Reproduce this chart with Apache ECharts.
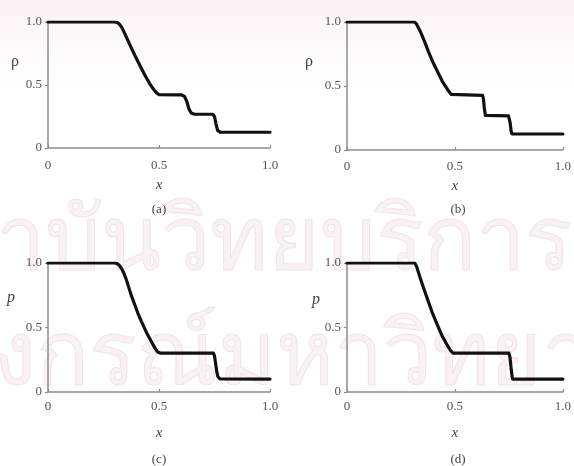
<!DOCTYPE html>
<html>
<head>
<meta charset="utf-8">
<script src="https://cdn.jsdelivr.net/npm/echarts@6/dist/echarts.min.js"></script>
<style>
  html, body { margin: 0; padding: 0; background: #ffffff; }
  #chart { width: 574px; height: 466px; }
</style>
</head>
<body>
<div id="chart"></div>
<script>
// Sod shock tube profiles: density (a, b) and pressure (c, d) against x
const xTicks = [0, 0.5, 1.0];
const yTicks = [0, 0.5, 1.0];

const rhoA = [
  [0, 1], [0.30, 1], [0.312, 0.996], [0.322, 0.982], [0.333, 0.955], [0.346, 0.908],
  [0.37, 0.815], [0.391, 0.736], [0.414, 0.655], [0.436, 0.579], [0.46, 0.505],
  [0.478, 0.46], [0.489, 0.437], [0.50, 0.424], [0.60, 0.422], [0.615, 0.41],
  [0.625, 0.37], [0.635, 0.31], [0.645, 0.278], [0.66, 0.268], [0.742, 0.268],
  [0.75, 0.25], [0.757, 0.19], [0.764, 0.14], [0.775, 0.126], [1.0, 0.125]
];
const rhoB = [
  [0, 1], [0.312, 1], [0.322, 0.985], [0.34, 0.925], [0.36, 0.845], [0.378, 0.765],
  [0.397, 0.69], [0.42, 0.61], [0.442, 0.535], [0.465, 0.475], [0.482, 0.435],
  [0.49, 0.427], [0.628, 0.427], [0.632, 0.40], [0.636, 0.33], [0.641, 0.27],
  [0.646, 0.266], [0.748, 0.266], [0.752, 0.24], [0.756, 0.21], [0.76, 0.15],
  [0.764, 0.126], [1.0, 0.125]
];
const pC = [
  [0, 1], [0.30, 1], [0.312, 0.995], [0.322, 0.98], [0.332, 0.955], [0.342, 0.92],
  [0.352, 0.875], [0.363, 0.815], [0.376, 0.745], [0.39, 0.68], [0.405, 0.61],
  [0.421, 0.546], [0.444, 0.46], [0.466, 0.39], [0.482, 0.34], [0.494, 0.31],
  [0.505, 0.302], [0.745, 0.302], [0.75, 0.28], [0.755, 0.22], [0.76, 0.16],
  [0.765, 0.12], [0.775, 0.101], [1.0, 0.1]
];
const pD = [
  [0, 1], [0.314, 1], [0.322, 0.975], [0.338, 0.89], [0.356, 0.80], [0.375, 0.71],
  [0.394, 0.62], [0.416, 0.53], [0.439, 0.44], [0.462, 0.37], [0.48, 0.32],
  [0.491, 0.302], [0.75, 0.302], [0.755, 0.27], [0.758, 0.22], [0.761, 0.17],
  [0.765, 0.12], [0.768, 0.1], [1.0, 0.1]
];

const panels = [
  { data: rhoA, yName: 'ρ', yItalic: false, caption: '(a)' },
  { data: rhoB, yName: 'ρ', yItalic: false, caption: '(b)' },
  { data: pC,   yName: 'p', yItalic: true,  caption: '(c)' },
  { data: pD,   yName: 'p', yItalic: true,  caption: '(d)' }
];

const SERIF = '"Liberation Serif", "DejaVu Serif", serif';
const AXIS_GREY = '#8c8c8c';
const LABEL_GREY = '#555555';

// panel boxes in pixels
const boxes = [
  { left: 48,  top: 22,  width: 222, height: 126, labelGap: 11, nameGap: 30, nameX: 15,  nameY: 62,  capY: 210 },
  { left: 347, top: 22,  width: 222, height: 128, labelGap: 10, nameGap: 29, nameX: 309, nameY: 62,  capY: 210 },
  { left: 48,  top: 263, width: 222, height: 129, labelGap: 8,  nameGap: 34, nameX: 11,  nameY: 298, capY: 460 },
  { left: 347, top: 263, width: 223, height: 129, labelGap: 8,  nameGap: 34, nameX: 316, nameY: 300, capY: 460 }
];

function fmt(v) {
  if (v === 0) return '0';
  return v.toFixed(1);
}

const grid = [], xAxis = [], yAxis = [], series = [], graphic = [];

// faint background wash and lettering behind the panels
graphic.push({
  type: 'rect', left: 0, top: 0, z: -10, silent: true,
  shape: { width: 574, height: 120 },
  style: {
    fill: new echarts.graphic.LinearGradient(0, 0, 0, 1, [
      { offset: 0, color: 'rgba(238,214,222,0.35)' },
      { offset: 1, color: 'rgba(255,255,255,0)' }
    ])
  }
});
graphic.push({
  type: 'text', z: -9, silent: true, x: 572, y: 288,
  style: {
    text: 'สถาบันวิทยบริการ', align: 'right', verticalAlign: 'bottom',
    font: '88px "Noto Sans", sans-serif',
    fill: 'rgba(236,200,212,0.26)', stroke: 'rgba(226,180,196,0.32)', lineWidth: 1
  }
});
graphic.push({
  type: 'text', z: -9, silent: true, x: 697, y: 403,
  style: {
    text: 'จุฬาลงกรณ์มหาวิทยาลัย', align: 'right', verticalAlign: 'bottom',
    font: '88px "Noto Sans", sans-serif',
    fill: 'rgba(236,200,212,0.26)', stroke: 'rgba(226,180,196,0.32)', lineWidth: 1
  }
});

panels.forEach((p, i) => {
  const b = boxes[i];
  grid.push({ left: b.left, top: b.top, width: b.width, height: b.height, containLabel: false });
  xAxis.push({
    type: 'value', gridIndex: i, min: 0, max: 1, interval: 0.5,
    name: 'x', nameLocation: 'middle', nameGap: b.nameGap,
    nameTextStyle: { fontFamily: SERIF, fontStyle: 'italic', fontSize: 15, color: '#444' },
    axisLine: { show: true, lineStyle: { color: AXIS_GREY, width: 1.5 } },
    axisTick: { show: true, inside: true, length: 3, lineStyle: { color: AXIS_GREY, width: 1.2 } },
    axisLabel: {
      margin: b.labelGap, fontFamily: SERIF, fontSize: 13, color: LABEL_GREY,
      formatter: v => fmt(v), customValues: xTicks
    },
    splitLine: { show: false }
  });
  yAxis.push({
    type: 'value', gridIndex: i, min: 0, max: 1, interval: 0.5,
    axisLine: { show: true, lineStyle: { color: AXIS_GREY, width: 1.5 } },
    axisTick: { show: true, inside: false, length: 3, lineStyle: { color: AXIS_GREY, width: 1.2 } },
    axisLabel: {
      margin: 6, fontFamily: SERIF, fontSize: 13, color: LABEL_GREY,
      formatter: v => fmt(v), customValues: yTicks
    },
    splitLine: { show: false }
  });
  series.push({
    type: 'line', xAxisIndex: i, yAxisIndex: i, data: p.data,
    showSymbol: false, smooth: false, animation: false,
    lineStyle: { color: '#111111', width: 3.2, join: 'round', cap: 'round' },
    z: 5
  });
  graphic.push({
    type: 'text', x: b.nameX, y: b.nameY, silent: true,
    style: {
      text: p.yName, align: 'center', verticalAlign: 'middle',
      font: (p.yItalic ? 'italic ' : '') + '16px ' + SERIF, fill: '#444'
    }
  });
  graphic.push({
    type: 'text', x: b.left + 111, y: b.capY, silent: true,
    style: {
      text: p.caption, align: 'center', verticalAlign: 'middle',
      font: '13px ' + SERIF, fill: '#444'
    }
  });
});

const chart = echarts.init(document.getElementById('chart'), null, { renderer: 'canvas' });
chart.setOption({
  backgroundColor: '#ffffff',
  animation: false,
  grid, xAxis, yAxis, series, graphic
});
</script>
</body>
</html>
